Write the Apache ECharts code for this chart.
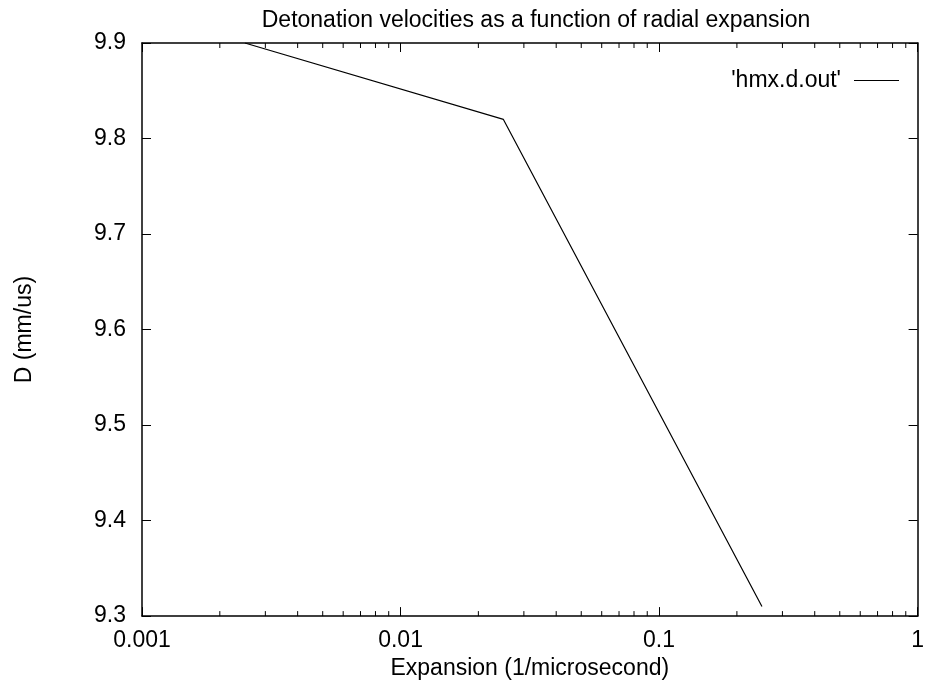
<!DOCTYPE html>
<html>
<head>
<meta charset="utf-8">
<script src="https://cdn.jsdelivr.net/npm/echarts@6/dist/echarts.min.js"></script>
<style>html,body{margin:0;padding:0;background:#fff}#c{width:927px;height:685px}</style>
</head>
<body>
<div id="c"></div>
<script>
const titleText = 'Detonation velocities as a function of radial expansion';
const seriesName = "'hmx.d.out'";
const xName = 'Expansion (1/microsecond)';
const yName = 'D (mm/us)';
const expansion = [0.0025, 0.025, 0.25];
const velocity = [9.9, 9.82, 9.31];
const xTickLabels = ['0.001', '0.01', '0.1', '1'];
const yTickLabels = ['9.3', '9.4', '9.5', '9.6', '9.7', '9.8', '9.9'];
const xMinorTicks = [0.002,0.003,0.004,0.005,0.006,0.007,0.008,0.009,
                     0.02,0.03,0.04,0.05,0.06,0.07,0.08,0.09,
                     0.2,0.3,0.4,0.5,0.6,0.7,0.8,0.9];

const FONT = "'Liberation Sans', Arial, Helvetica, sans-serif";
const FS = 23;
const chart = echarts.init(document.getElementById('c'), null, {renderer: 'canvas'});
const yMin = 9.3, yMax = 9.9;

const axisLine = {show: true, lineStyle: {color: '#000', width: 1.5}};
const tick = {show: true, inside: true, length: 9, lineStyle: {color: '#000', width: 1}};

chart.setOption({
  animation: false,
  backgroundColor: '#fff',
  title: {
    text: titleText, left: 531, top: 4, textAlign: 'center',
    textStyle: {fontFamily: FONT, fontSize: 23, fontWeight: 'normal', color: '#000'}
  },
  legend: {
    right: 23, top: 64, align: 'right',
    itemWidth: 45, itemHeight: 1.2, icon: 'rect',
    textStyle: {fontFamily: FONT, fontSize: FS, color: '#000', padding: [0, 8, 0, 0]},
    data: [{name: seriesName, icon: 'rect', itemStyle: {color: '#000'}}]
  },
  grid: {left: 142, right: 7, top: 43, bottom: 66, containLabel: false},
  xAxis: [{
    type: 'log', logBase: 10, min: 0.001, max: 1,
    name: xName, nameLocation: 'middle', nameGap: 29,
    nameTextStyle: {fontFamily: FONT, fontSize: FS, color: '#000'},
    axisLine: axisLine, axisTick: tick, splitLine: {show: false},
    axisLabel: {
      fontFamily: FONT, fontSize: FS, color: '#000', margin: 13,
      formatter: function (v) {
        const i = Math.round(Math.log10(v) + 3);
        return xTickLabels[i] !== undefined ? xTickLabels[i] : '';
      }
    }
  }, {
    type: 'log', logBase: 10, min: 0.001, max: 1, position: 'top',
    axisLine: axisLine, axisTick: tick, axisLabel: {show: false}, splitLine: {show: false}
  }],
  yAxis: [{
    type: 'value', min: yMin, max: yMax, interval: 0.1,
    name: yName, nameLocation: 'middle', nameGap: 106, nameRotate: 90,
    nameTextStyle: {fontFamily: FONT, fontSize: FS, color: '#000'},
    axisLine: axisLine, axisTick: tick, splitLine: {show: false},
    axisLabel: {
      fontFamily: FONT, fontSize: FS, color: '#000', margin: 16,
      formatter: function (v) {
        const i = Math.round((v - yMin) * 10);
        return yTickLabels[i] !== undefined ? yTickLabels[i] : '';
      }
    }
  }, {
    type: 'value', min: yMin, max: yMax, interval: 0.1, position: 'right',
    axisLine: axisLine, axisTick: tick, axisLabel: {show: false}, splitLine: {show: false}
  }],
  series: [{
    name: seriesName, type: 'line', symbol: 'none', showSymbol: false,
    color: '#000',
    lineStyle: {color: '#000', width: 1.2},
    data: expansion.map((x, i) => [x, velocity[i]]),
    z: 3
  }, {
    name: 'minorTicks', type: 'custom', silent: true, clip: false,
    data: xMinorTicks.map(v => [v]),
    renderItem: function (params, api) {
      const v = api.value(0);
      const b = api.coord([v, yMin]);
      const t = api.coord([v, yMax]);
      const len = 5;
      return {
        type: 'group',
        children: [
          {type: 'line', shape: {x1: b[0], y1: b[1], x2: b[0], y2: b[1] - len}, style: {stroke: '#000', lineWidth: 1}},
          {type: 'line', shape: {x1: t[0], y1: t[1], x2: t[0], y2: t[1] + len}, style: {stroke: '#000', lineWidth: 1}}
        ]
      };
    },
    z: 4
  }]
});
</script>
</body>
</html>
